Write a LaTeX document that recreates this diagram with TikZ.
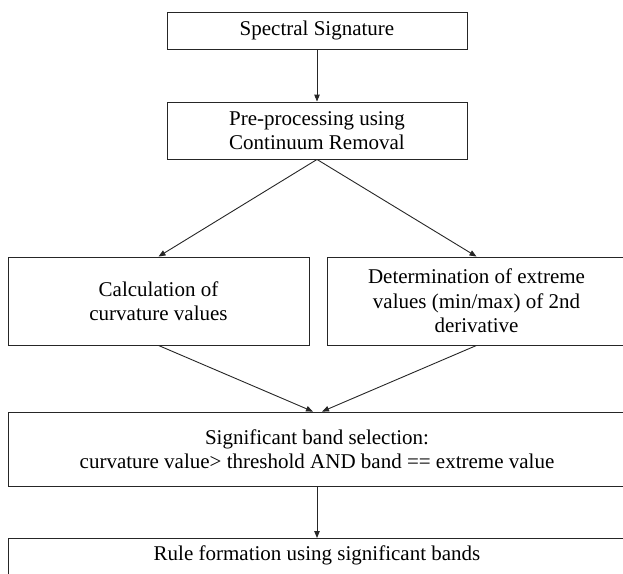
\documentclass[tikz,border=0pt]{standalone}
\usepackage{fontspec}
\setmainfont{Liberation Serif}
\usetikzlibrary{arrows.meta}
\begin{document}
\begin{tikzpicture}[x=1pt,y=-1pt,
  box/.style={draw=black!85, line width=0.9pt, inner sep=0pt, align=center, font=\fontsize{21}{24.5}\selectfont},
  txt/.style={inner sep=0pt, align=center, font=\fontsize{21}{24.5}\selectfont},
  arr/.style={draw=black!85, line width=0.9pt, -{Triangle[length=7pt,width=5.5pt]}}]
\useasboundingbox (0,0) rectangle (623,573);
\clip (0,0) rectangle (623,573);
\node[box, minimum width=300pt, minimum height=37pt] (s) at (317,30.5) {Spectral Signature};
\node[box, minimum width=300pt, minimum height=57pt] (p) at (317,130.5) {Pre-processing using\\Continuum Removal};
\node[box, minimum width=301pt, minimum height=88pt] (c) at (158.5,301) {Calculation of\\curvature values};
\node[box, minimum width=299pt, minimum height=88pt] (d) at (476.5,301) {Determination of extreme\\values (min/max) of 2nd\\derivative};
\node[box, minimum width=618pt, minimum height=74pt] (sel) at (317,449) {Significant band selection:\\curvature value> threshold AND band == extreme value};
\node[box, minimum width=618pt, minimum height=70pt, anchor=north] (r) at (317,538) {};
\node[txt] (rt) at (317,555) {Rule formation using significant bands};
\draw[arr] (s) -- (p);
\draw[arr] (p.south) -- (c.north);
\draw[arr] (p.south) -- (d.north);
\draw[arr] (c.south) -- ([xshift=-4pt]sel.north);
\draw[arr] (d.south) -- ([xshift=5pt]sel.north);
\draw[arr] (sel) -- (r);
\end{tikzpicture}
\end{document}
